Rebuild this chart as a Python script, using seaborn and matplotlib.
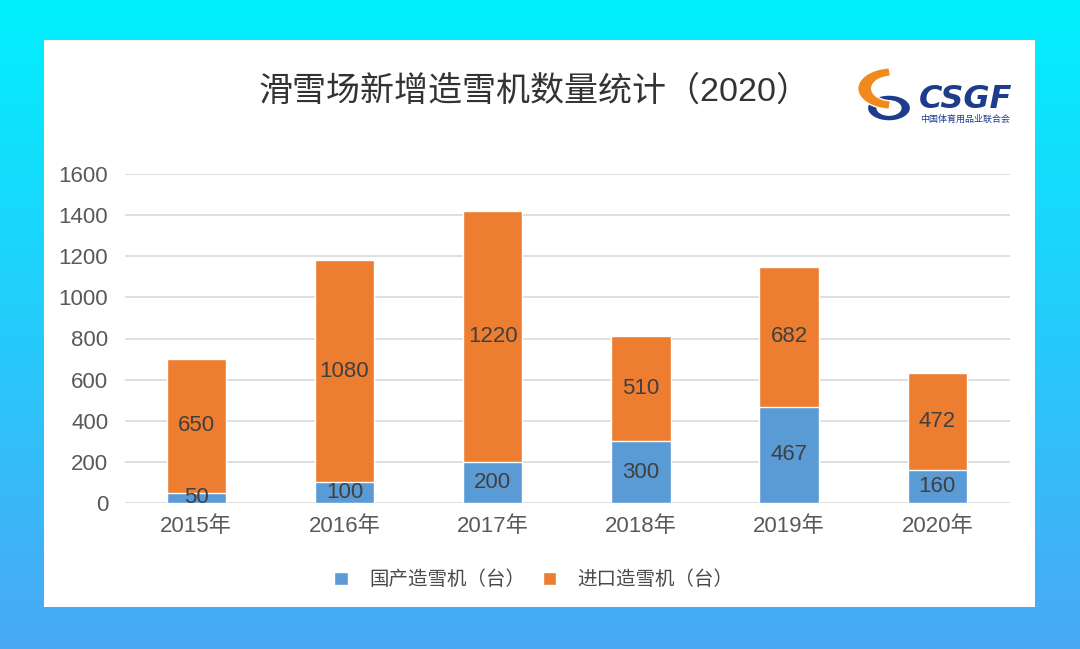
import numpy as np
import pandas as pd
import seaborn as sns
import matplotlib.pyplot as plt
from matplotlib.patches import Rectangle, Wedge

years = ["2015年", "2016年", "2017年", "2018年", "2019年", "2020年"]
domestic = [50, 100, 200, 300, 467, 160]
imported = [650, 1080, 1220, 510, 682, 472]
yticks = [0, 200, 400, 600, 800, 1000, 1200, 1400, 1600]

title = "滑雪场新增造雪机数量统计（2020）"
name_domestic = "国产造雪机（台）"
name_imported = "进口造雪机（台）"

sns.set_style("white")
# Liberation for the digits, Noto CJK for the Chinese characters
plt.rcParams['font.family'] = ['Liberation Sans', 'Noto Sans CJK SC', 'DejaVu Sans']

blue = "#5B9BD5"
orange = "#ED7D31"
txt = "#595959"

df = pd.DataFrame({"year": years, "domestic": domestic, "imported": imported})
df["total"] = df["domestic"] + df["imported"]

fig = plt.figure(figsize=(10.8, 6.49), dpi=100)

# gradient background
bg = fig.add_axes([0, 0, 1, 1])
grad = np.linspace(0, 1, 256).reshape(-1, 1)
top_c = np.array([0x00, 0xF0, 0xFF]) / 255
bot_c = np.array([0x4A, 0xA8, 0xF6]) / 255
img = top_c + grad[..., None] * (bot_c - top_c)
bg.imshow(img, aspect="auto", extent=[0, 1, 0, 1])
bg.set_axis_off()

# white panel
fig.patches.append(Rectangle((44 / 1080, 1 - 607 / 649), (1035 - 44) / 1080, (607 - 40) / 649,
                             transform=fig.transFigure, facecolor="white", edgecolor="none", zorder=1))

ax = fig.add_axes([125 / 1080, 146 / 649, 885 / 1080, 329 / 649])
ax.set_zorder(2)
ax.patch.set_alpha(0)

sns.barplot(data=df, x="year", y="total", color=orange, width=0.4, saturation=1,
            ax=ax, zorder=3, label=name_imported)
sns.barplot(data=df, x="year", y="domestic", color=blue, width=0.4, saturation=1,
            ax=ax, zorder=4, label=name_domestic)

for i, (d, m) in enumerate(zip(domestic, imported)):
    ax.text(i, d / 2, str(d), ha="center", va="center", fontsize=16, color="#404040", zorder=5)
    ax.text(i, d + m / 2, str(m), ha="center", va="center", fontsize=16, color="#404040", zorder=5)

ax.set_ylim(0, 1600)
ax.set_xlim(-0.48, 5.49)
ax.set_yticks(yticks)
ax.yaxis.grid(True, color="#D9D9D9", linewidth=1.2, zorder=0)
ax.set_axisbelow(True)
for s in ax.spines.values():
    s.set_visible(False)
ax.tick_params(axis="both", length=0, labelsize=16, labelcolor=txt)
ax.tick_params(axis="x", pad=9)
ax.tick_params(axis="y", pad=12)
ax.set_xlabel("")
ax.set_ylabel("")

handles, labels = ax.get_legend_handles_labels()
leg = fig.legend(handles[::-1], labels[::-1], loc="center", bbox_to_anchor=(534 / 1080, 1 - 580 / 649),
                 ncol=2, frameon=False, fontsize=14, handlelength=0.7, handleheight=0.7,
                 columnspacing=0.9, handletextpad=1.1)
for t in leg.get_texts():
    t.set_color("#4A4A4A")
    t.set_fontweight("medium")
if ax.get_legend():
    ax.get_legend().remove()

fig.text(535 / 1080, 1 - 92 / 649, title, ha="center", va="center", fontsize=24.5, color="#333333")

# logo approximation
lx, ly = 889 / 1080, 1 - 108 / 649
fig.patches.append(Wedge((lx, ly), 0.02, 0, 360, width=0.009, transform=fig.transFigure,
                         facecolor="#1D3C8C", zorder=5))
fig.patches.append(Wedge((lx + 0.003, ly + 0.03), 0.032, 95, 265, width=0.013, transform=fig.transFigure,
                         facecolor="#F08A1C", zorder=5))
fig.text(919 / 1080, 1 - 100 / 649, "CSGF", fontsize=23, fontweight="bold", style="italic",
         color="#1D3C8C", ha="left", va="center", family="DejaVu Sans", zorder=6)
fig.text(920 / 1080, 1 - 119 / 649, "中国体育用品业联合会", fontsize=6.5, color="#1D3C8C",
         ha="left", va="center", family="Noto Sans CJK SC", zorder=6)

fig.savefig("out.png", dpi=100)
